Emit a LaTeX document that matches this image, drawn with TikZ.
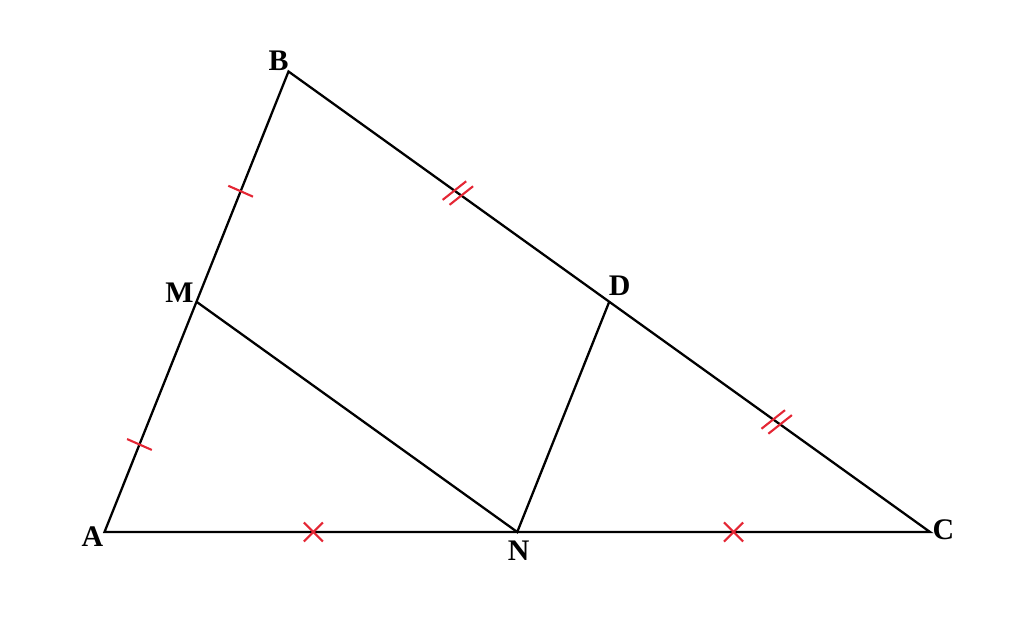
\documentclass[tikz,border=0pt]{standalone}
\usepackage{fontspec}
\setmainfont{Liberation Serif}
\usetikzlibrary{calc,positioning}
\definecolor{markred}{RGB}{228,38,52}
\tikzset{
    side/.style={draw, black, line width=1.3pt},
    pt label/.style={font=\fontsize{17}{20}\selectfont\bfseries, inner sep=0pt},
    tick mark/.style={draw, markred, line width=1.2pt}
}

\begin{document}
\begin{tikzpicture}
	\useasboundingbox (0,0) rectangle (20.48,12.46);
	% vertices and midpoints
	\coordinate (A) at (2.09,1.82);
	\coordinate (B) at (5.77,11.03);
	\coordinate (C) at (18.60,1.82);
	\coordinate (M) at ($(A)!0.5!(B)$);
	\coordinate (N) at ($(A)!0.5!(C)$);
	\coordinate (D) at ($(B)!0.5!(C)$);
	% triangle and inner segments
	\draw[side] (A) -- (B) -- (C) -- cycle;
	\draw[side] (M) -- (N) -- (D);
	% labels
	\node[pt label] (lA) at ($(A)+(-0.24,-0.09)$) {A};
	\node[pt label] (lB) at ($(B)+(-0.20,0.21)$) {B};
	\node[pt label] (lC) at ($(C)+(0.27,0.04)$) {C};
	\node[pt label] (lM) at ($(M)+(-0.34,0.18)$) {M};
	\node[pt label] (lD) at ($(D)+(0.21,0.32)$) {D};
	\node[pt label] (lN) at ($(N)+(0.03,-0.38)$) {N};
	% single ticks on AB
	\foreach \p in {0.19,0.74}{
		\coordinate (t) at ($(A)!\p!(B)$);
		\draw[tick mark] ($(t)!0.27cm!88:(B)$) -- ($(t)!0.27cm!-92:(B)$);
	}
	% double ticks on BC
	\foreach \p in {0.264,0.761}{
		\coordinate (u) at ($(B)!\p!(C)$);
		\foreach \s in {-0.085,0.085}{
			\coordinate (v) at ($(u)!\s cm!(C)$);
			\draw[tick mark] ($(v)!0.3cm!74:(C)$) -- ($(v)!0.3cm!-106:(C)$);
		}
	}
	% crosses on AC
	\foreach \p in {0.253,0.762}{
		\coordinate (x) at ($(A)!\p!(C)$);
		\draw[tick mark] ($(x)!0.27cm!45:(C)$) -- ($(x)!0.27cm!-135:(C)$);
		\draw[tick mark] ($(x)!0.27cm!135:(C)$) -- ($(x)!0.27cm!-45:(C)$);
	}
\end{tikzpicture}
\end{document}
